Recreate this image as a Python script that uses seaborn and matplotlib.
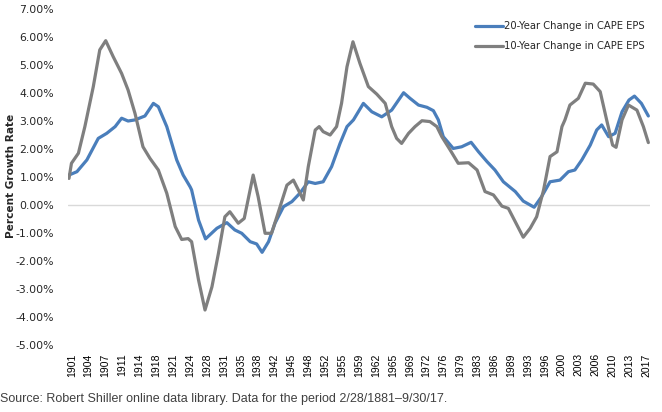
import numpy as np
import pandas as pd
import matplotlib
matplotlib.use("Agg")
import matplotlib.pyplot as plt
import seaborn as sns

# 20-year change in CAPE EPS (% per year)
years_20 = [1901.0, 1902.6, 1904.6, 1906.9, 1908.6, 1910.3, 1911.6, 1912.9, 1914.3, 1916.3,
            1918.0, 1919.0, 1920.7, 1922.7, 1924.0, 1925.4, 1925.7, 1927.1, 1928.5, 1930.8,
            1932.8, 1934.4, 1935.8, 1937.5, 1938.8, 1939.9, 1941.2, 1942.5, 1944.2, 1945.9,
            1947.5, 1949.2, 1950.6, 1952.2, 1953.9, 1955.6, 1957.0, 1958.3, 1960.3, 1962.0,
            1964.0, 1966.0, 1968.4, 1969.7, 1971.4, 1973.1, 1974.4, 1975.4, 1976.4, 1978.4,
            1980.1, 1982.0, 1983.5, 1985.2, 1986.8, 1988.5, 1990.9, 1992.5, 1994.7, 1996.2,
            1997.9, 1999.9, 2001.6, 2002.9, 2004.3, 2006.0, 2007.3, 2008.3, 2009.7, 2011.0,
            2012.4, 2013.8, 2014.9, 2016.3, 2017.7]
chg_20 = [1.07, 1.19, 1.61, 2.38, 2.56, 2.80, 3.10, 3.00, 3.04, 3.18,
          3.63, 3.51, 2.80, 1.61, 1.07, 0.65, 0.54, -0.54, -1.21, -0.83,
          -0.63, -0.89, -1.01, -1.31, -1.39, -1.69, -1.31, -0.65, -0.06, 0.12,
          0.42, 0.83, 0.77, 0.83, 1.37, 2.20, 2.80, 3.04, 3.63, 3.33,
          3.15, 3.39, 4.01, 3.81, 3.57, 3.49, 3.37, 3.04, 2.44, 2.02,
          2.08, 2.24, 1.90, 1.55, 1.25, 0.83, 0.48, 0.14, -0.08, 0.30,
          0.83, 0.89, 1.19, 1.25, 1.61, 2.14, 2.68, 2.86, 2.44, 2.56,
          3.33, 3.75, 3.89, 3.63, 3.18]

# 10-year change in CAPE EPS (% per year)
years_10 = [1901.0, 1901.5, 1902.9, 1904.2, 1905.9, 1907.2, 1908.4, 1909.9, 1911.6, 1912.9,
            1914.3, 1915.9, 1917.3, 1919.0, 1920.7, 1922.4, 1923.7, 1925.0, 1925.7, 1927.1,
            1928.4, 1929.8, 1931.1, 1932.4, 1933.4, 1935.1, 1936.3, 1938.1, 1939.1, 1940.5,
            1941.8, 1943.2, 1944.9, 1946.2, 1947.2, 1948.2, 1949.2, 1950.6, 1951.4, 1952.2,
            1953.6, 1954.9, 1955.9, 1957.0, 1958.2, 1959.6, 1961.3, 1963.0, 1964.7, 1966.0,
            1967.0, 1968.0, 1969.4, 1970.7, 1972.1, 1973.7, 1975.1, 1976.1, 1977.8, 1979.4,
            1981.5, 1983.2, 1984.8, 1986.5, 1988.2, 1989.5, 1990.9, 1992.5, 1993.9, 1995.2,
            1996.6, 1997.9, 1999.3, 2000.3, 2000.9, 2001.9, 2003.6, 2005.0, 2006.6, 2008.0,
            2009.3, 2010.5, 2011.2, 2012.4, 2013.7, 2015.4, 2016.7, 2017.7]
chg_10 = [0.95, 1.49, 1.85, 2.80, 4.23, 5.54, 5.87, 5.30, 4.70, 4.11,
          3.27, 2.08, 1.67, 1.25, 0.42, -0.77, -1.23, -1.20, -1.31, -2.68,
          -3.75, -2.92, -1.73, -0.42, -0.24, -0.65, -0.48, 1.07, 0.30, -1.01,
          -1.01, -0.24, 0.71, 0.89, 0.54, 0.18, 1.37, 2.68, 2.80, 2.62,
          2.50, 2.80, 3.63, 4.94, 5.83, 5.06, 4.23, 3.96, 3.63, 2.80,
          2.38, 2.20, 2.56, 2.80, 3.01, 2.98, 2.80, 2.44, 1.96, 1.49,
          1.51, 1.25, 0.48, 0.36, -0.04, -0.12, -0.60, -1.15, -0.83, -0.42,
          0.54, 1.73, 1.90, 2.80, 3.04, 3.57, 3.81, 4.35, 4.32, 4.05,
          3.04, 2.14, 2.06, 3.04, 3.57, 3.39, 2.80, 2.23]

tick_labels = ["1901", "1904", "1907", "1911", "1914", "1918", "1921", "1924", "1928",
               "1931", "1935", "1938", "1942", "1945", "1948", "1952", "1955", "1959",
               "1962", "1965", "1969", "1972", "1976", "1979", "1983", "1986", "1989",
               "1993", "1996", "2000", "2003", "2006", "2010", "2013", "2017"]

label_20 = "20-Year Change in CAPE EPS"
label_10 = "10-Year Change in CAPE EPS"

df = pd.concat([
    pd.DataFrame({"Year": years_20, "Change": chg_20, "Series": label_20}),
    pd.DataFrame({"Year": years_10, "Change": chg_10, "Series": label_10}),
], ignore_index=True)

sns.set_style("white")
plt.rcParams["font.family"] = ["DejaVu Sans"]

fig = plt.figure(figsize=(6.62, 4.12), dpi=100)
ax = fig.add_axes([0.1027, 0.1626, 0.8793, 0.8155])

ax.axhline(0, color="#d9d9d9", lw=1, zorder=1)
sns.lineplot(data=df, x="Year", y="Change", hue="Series", sort=False,
             palette={label_20: "#4a7ebb", label_10: "#7f7f7f"},
             linewidth=2.3, ax=ax, zorder=3)

ax.set_xlim(1900.8, 2018.05)
ax.set_ylim(-5, 7)
ax.set_yticks(np.arange(-5, 8, 1))
ax.set_yticklabels([f"{v:.2f}%" for v in np.arange(-5, 8, 1)], fontsize=7.8, color="#262626")
ax.set_xticks(np.linspace(1901.55, 2017.3, len(tick_labels)))
ax.set_xticklabels(tick_labels, rotation=90, fontsize=7.5, family="Liberation Sans", color="#000000")
ax.tick_params(axis="x", length=0, pad=6)
ax.tick_params(axis="y", length=0, pad=10)

ax.set_xlabel("")
ax.set_ylabel("")
fig.text(0.016, 0.573, "Percent Growth Rate", rotation=90, fontsize=7.6, fontweight="bold",
         ha="center", va="center")
for s in ax.spines.values():
    s.set_visible(False)

leg = ax.legend(loc="upper left", bbox_to_anchor=(0.683, 0.991), frameon=False,
                fontsize=7.2, handlelength=2.8, handletextpad=0.1, labelspacing=1.0)

fig.text(0.0, 0.025, "Source: Robert Shiller online data library. Data for the period 2/28/1881\u20139/30/17.",
         fontsize=9, family="Liberation Sans", color="#404040")

fig.savefig("out.png", dpi=100)
